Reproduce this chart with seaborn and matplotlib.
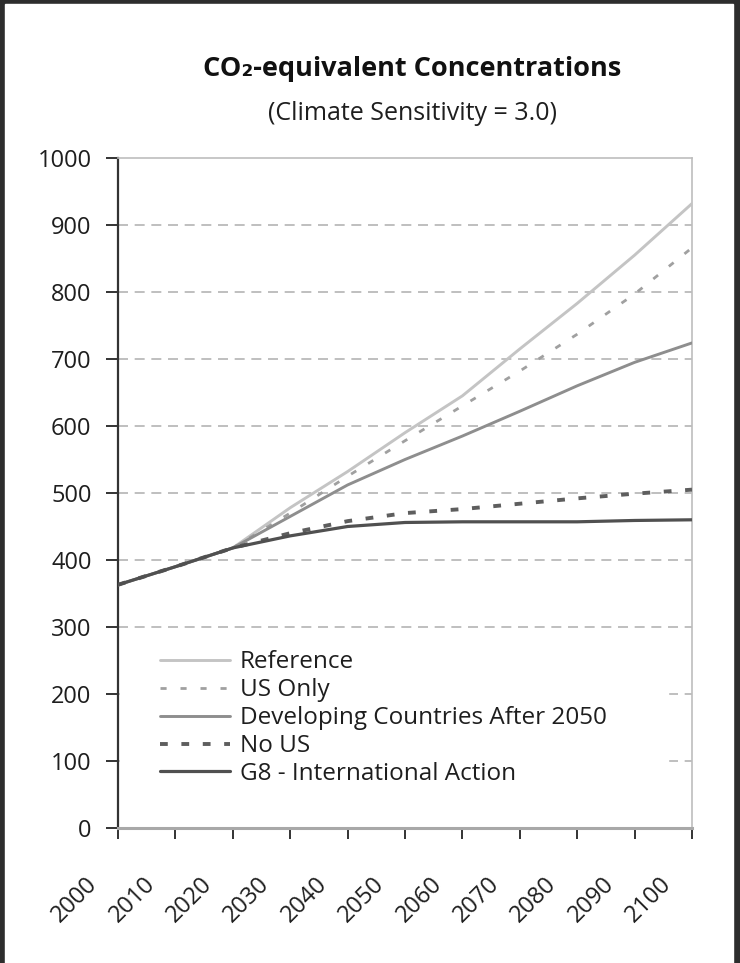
import matplotlib
matplotlib.use("Agg")
import matplotlib.pyplot as plt
import matplotlib.transforms as mtransforms
from matplotlib.patches import Rectangle
import pandas as pd
import seaborn as sns

years = [2000, 2010, 2020, 2030, 2040, 2050, 2060, 2070, 2080, 2090, 2100]
reference = [363, 390, 418, 478, 532, 590, 645, 715, 783, 855, 932]
us_only = [363, 390, 418, 470, 525, 578, 630, 682, 737, 797, 866]
developing = [363, 390, 418, 465, 512, 550, 585, 622, 660, 695, 724]
no_us = [363, 390, 418, 440, 458, 470, 476, 484, 492, 499, 505]
g8 = [363, 390, 418, 436, 450, 456, 457, 457, 457, 459, 460]

series_names = ["Reference", "US Only", "Developing Countries After 2050",
                "No US", "G8 - International Action"]
x_ticks = list(range(2000, 2101, 10))
y_ticks = list(range(0, 1001, 100))

df = pd.DataFrame({"year": years, "Reference": reference, "US Only": us_only,
                   "Developing Countries After 2050": developing,
                   "No US": no_us, "G8 - International Action": g8})

sns.set_style("white")
plt.rcParams["font.family"] = ["Open Sans", "DejaVu Sans"]

fig = plt.figure(figsize=(7.4, 9.63), dpi=100, facecolor="#2d2d2d")
fig.patches.append(Rectangle((5 / 740, 0), 728 / 740, 959 / 963,
                             transform=fig.transFigure, color="white", zorder=-1))
ax = fig.add_axes([118 / 740, 1 - 828 / 963, 574 / 740, 670 / 963])

styles = {
    "Reference": dict(color="#c4c4c4", lw=2.1, ls="-"),
    "US Only": dict(color="#a0a0a0", lw=2.0, ls=(0, (2.2, 5))),
    "Developing Countries After 2050": dict(color="#8e8e8e", lw=2.1, ls="-"),
    "No US": dict(color="#5e5e5e", lw=2.8, ls=(0, (2, 3.5))),
    "G8 - International Action": dict(color="#505050", lw=2.3, ls="-"),
}

for name in series_names:
    st = styles[name]
    sns.lineplot(data=df, x="year", y=name, ax=ax, label=name,
                 color=st["color"], linewidth=st["lw"], linestyle=st["ls"], zorder=3)

ax.set_xlim(2000, 2100)
ax.set_ylim(0, 1000)
ax.set_xticks(x_ticks)
ax.set_yticks(y_ticks)
ax.set_xlabel("")
ax.set_ylabel("")

for y in y_ticks[1:-1]:
    ax.axhline(y, color="#b4b4b4", lw=1.2, ls=(0, (6, 4)), zorder=1)

# white box behind legend hides grid lines
ax.add_patch(Rectangle((0.003, 0.05), 0.955, 0.222, transform=ax.transAxes,
                       color="white", zorder=2))

for side in ["top", "right"]:
    ax.spines[side].set_color("#bdbdbd")
    ax.spines[side].set_linewidth(1.2)
ax.spines["left"].set_color("#333333")
ax.spines["left"].set_linewidth(1.6)
ax.spines["bottom"].set_color("#a8a8a8")
ax.spines["bottom"].set_linewidth(2.2)

ax.tick_params(axis="y", direction="out", length=9, width=1.4, color="#333333",
               labelsize=17, pad=10, labelcolor="#1e1e1e", left=True)
ax.tick_params(axis="x", direction="out", length=8, width=1.4, color="#333333",
               labelsize=17, pad=30, labelcolor="#1e1e1e", bottom=True)
offset = mtransforms.ScaledTranslation(-24 / 100, 0, fig.dpi_scale_trans)
for lab in ax.get_xticklabels():
    lab.set_rotation(45)
    lab.set_ha("right")
    lab.set_va("center")
    lab.set_rotation_mode("anchor")
    lab.set_transform(lab.get_transform() + offset)

leg = ax.legend(loc="upper left", bbox_to_anchor=(0.073, 0.265), frameon=False,
                fontsize=17.5, handlelength=2.9, handletextpad=0.38,
                labelspacing=0.16, borderpad=0, borderaxespad=0)
for t in leg.get_texts():
    t.set_color("#1e1e1e")

fig.text(412 / 740, 1 - 69 / 963, "CO\u2082-equivalent Concentrations",
         ha="center", va="center", fontsize=19.5, fontweight="bold", color="#111111")
fig.text(412 / 740, 1 - 113 / 963, "(Climate Sensitivity = 3.0)",
         ha="center", va="center", fontsize=18, color="#1e1e1e")

fig.savefig("out.png", dpi=100, facecolor=fig.get_facecolor())
